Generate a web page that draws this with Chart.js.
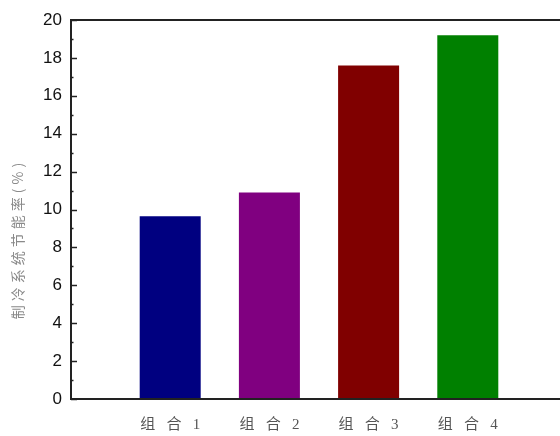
<!DOCTYPE html>
<html>
<head>
<meta charset="utf-8">
<script src="https://cdn.jsdelivr.net/npm/chart.js@4.4.0/dist/chart.umd.min.js"></script>
<style>
  html, body { margin: 0; padding: 0; background: #fff; overflow: hidden; }
  canvas { display: block; }
</style>
</head>
<body>
<canvas id="chart" width="584" height="436"></canvas>
<script>
// values
const categories = ['组 合 1', '组 合 2', '组 合 3', '组 合 4'];
const savingRate = [9.65, 10.9, 17.6, 19.2];
const barColors = ['#000080', '#800080', '#800000', '#008000'];
const yTitle = '制冷系统节能率(%)';

// frame, inward ticks and the rotated y title, Origin style
const framePlugin = {
  id: 'frame',
  afterDraw(chart) {
    const ctx = chart.ctx;
    const a = chart.chartArea;
    const y = chart.scales.y;
    ctx.save();
    ctx.strokeStyle = '#222';
    ctx.lineWidth = 2;
    ctx.strokeRect(a.left, a.top, a.right - a.left, a.bottom - a.top);

    ctx.lineWidth = 1.5;
    for (let v = 0; v <= 20; v++) {
      const py = Math.round(y.getPixelForValue(v)) + 0.5;
      const len = v % 2 === 0 ? 6 : 2.5;
      ctx.beginPath();
      ctx.moveTo(a.left, py);
      ctx.lineTo(a.left + len, py);
      ctx.stroke();
    }

    ctx.translate(18, 239);
    ctx.rotate(-Math.PI / 2);
    ctx.fillStyle = '#8a8a8a';
    ctx.font = "14px 'Noto Sans CJK SC'";
    ctx.letterSpacing = '4px';
    ctx.textAlign = 'center';
    ctx.textBaseline = 'middle';
    ctx.fillText(yTitle, 0, 0);
    ctx.restore();
  }
};

new Chart(document.getElementById('chart').getContext('2d'), {
  type: 'bar',
  data: {
    datasets: [{
      data: savingRate.map((v, i) => ({ x: i + 1, y: v })),
      backgroundColor: barColors,
      borderWidth: 0,
      barPercentage: 0.615,
      categoryPercentage: 1
    }]
  },
  options: {
    responsive: false,
    animation: false,
    layout: { padding: { top: 20, right: 3, left: 0, bottom: 0 } },
    plugins: {
      legend: { display: false },
      tooltip: { enabled: false }
    },
    scales: {
      x: {
        type: 'linear',
        min: 0,
        max: 5,
        offset: false,
        afterFit: s => { s.height = 37; },
        grid: { display: false, drawTicks: false },
        border: { display: false },
        ticks: {
          stepSize: 1,
          padding: 17,
          color: '#555',
          maxRotation: 0,
          autoSkip: false,
          font: { family: "'Liberation Serif', 'Noto Sans CJK SC'", size: 15 },
          // wider gaps between the characters, as in the source figure
          callback: v => (categories[v - 1] || '').replace(/ /g, '\u2002 ')
        }
      },
      y: {
        min: 0,
        max: 20,
        afterFit: s => { s.width = 71; },
        grid: { display: false, drawTicks: false },
        border: { display: false },
        ticks: {
          stepSize: 2,
          padding: 9,
          color: '#111',
          font: { family: "'Liberation Sans', Arial", size: 17 }
        }
      }
    }
  },
  plugins: [framePlugin]
});
</script>
</body>
</html>
